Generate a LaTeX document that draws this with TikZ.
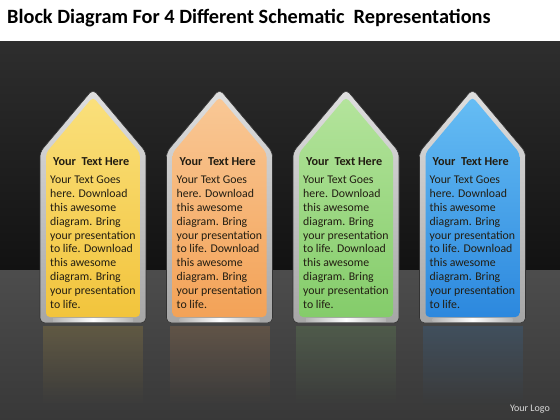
\documentclass[tikz,border=0pt]{standalone}
\usepackage{fontspec}
\setmainfont{Carlito}
\usetikzlibrary{fadings}

% fill colours (top/bottom of each pencil)
\definecolor{yelTop}{HTML}{FAE07C}
\definecolor{yelBot}{HTML}{F2C43C}
\definecolor{oraTop}{HTML}{F9C896}
\definecolor{oraBot}{HTML}{F3A257}
\definecolor{greTop}{HTML}{B4E49C}
\definecolor{greBot}{HTML}{84CC6A}
\definecolor{bluTop}{HTML}{66BDF4}
\definecolor{bluBot}{HTML}{2C88DE}
\definecolor{txtDark}{HTML}{221D12}

\newcommand{\bodytext}{Your Text Goes\\here. Download\\this awesome\\diagram. Bring\\your presentation\\to life. Download\\this awesome\\diagram. Bring\\your presentation\\to life.}

\begin{document}
\begin{tikzpicture}[
    x=1pt, y=-1pt,
    rim/.style={top color=gray!25, bottom color=gray!70, draw=gray!40!black, line width=0.6pt, rounded corners=5pt},
    face/.style={rounded corners=4pt},
    headtext/.style={anchor=base west, inner sep=0pt, font=\fontsize{12.2}{14}\selectfont\bfseries, text=txtDark},
    bodytxt/.style={anchor=north west, inner sep=0pt, align=left, font=\fontsize{11.8}{13.8}\selectfont, text=txtDark},
    mirror/.style={opacity=0.16, path fading=south}
]
\useasboundingbox (0,0) rectangle (560,420);

% Background: white band, dark wall, grey floor
\fill[white] (0,0) rectangle (560,42);
\shade[top color=black!82, bottom color=black!93] (0,42) rectangle (560,270);
\shade[top color=black!70, bottom color=black!78] (0,270) rectangle (560,420);

% Title
\node[anchor=base west, inner sep=0pt, font=\fontsize{20.3}{24}\selectfont\bfseries] (title) at (7,24)
    {Block Diagram For 4 Different Schematic\ \ Representations};

% Pencils
\foreach \cx/\col [count=\i] in {93/yel, 219.5/ora, 346/gre, 472.5/blu} {
    % reflection on the floor
    \fill[\col Bot, mirror] ({\cx-50},326) rectangle ({\cx+50},405);

    % silver rim
    \path[rim] (\cx,89) -- ({\cx+53},152) -- ({\cx+53},323) -- ({\cx-53},323) -- ({\cx-53},152) -- cycle;
    \shade[left color=gray!60, right color=gray!60, middle color=white] ({\cx-40},318.5) rectangle ({\cx+40},321.5);

    % coloured face
    \shade[face, top color=\col Top, bottom color=\col Bot]
        (\cx,97) -- ({\cx+47},153) -- ({\cx+47},317) -- ({\cx-47},317) -- ({\cx-47},153) -- cycle;

    % texts
    \node[headtext] (header\i) at ({\cx-40},165) {Your\ \ Text Here};
    \node[bodytxt] (body\i) at ({\cx-43},176) {\bodytext};
}

% Logo
\node[anchor=base east, inner sep=0pt, font=\fontsize{10}{12}\selectfont, text=gray!30] (logo) at (550,411) {Your Logo};

\end{tikzpicture}
\end{document}
